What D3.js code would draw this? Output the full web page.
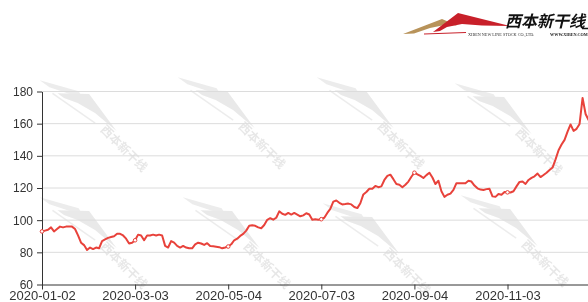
<!DOCTYPE html>
<html>
<head>
<meta charset="utf-8">
<script src="https://d3js.org/d3.v7.min.js"></script>
<style>
  body { margin: 0; background: #fff; }
  svg { display: block; }
  .axis text { font-family: "Liberation Sans", Arial, sans-serif; fill: #333; }
  .axis path, .axis line { stroke: #333; }
</style>
</head>
<body>
<svg width="588" height="302"></svg>
<script>
var values = [
  93, 93.5, 94, 95.5, 93, 94.5, 96, 95.5, 96, 96,
  96, 94.5, 90.5, 86, 84.5, 81.5, 83, 82, 83, 82.5,
  87, 88, 89, 89.5, 90, 91.5, 91.5, 90.5, 88.5, 85.5,
  86, 87.5, 91, 90.5, 87.5, 90.5, 90.5, 91, 90.5, 91,
  90.5, 84, 83, 87, 86, 84, 83, 84, 83, 82.5,
  82.5, 85, 86, 85.5, 84.6, 85.7, 84, 83.8, 83.5, 83.2,
  82.5, 83, 83.6, 85, 87.5, 88.5, 90.2, 91.5, 93.5, 96.5,
  96.8, 96.5, 95.5, 95, 97, 100.2, 101.2, 100.3, 101.5, 105.5,
  104, 103.3, 104.5, 103.5, 104.5, 103.5, 102.4, 103, 104.3, 103.5,
  100.2, 100.6, 100.2, 100.6, 101.5, 104.5, 107, 111.5, 112.2, 110.8,
  109.8, 110, 110.3, 109.8, 108.2, 107.5, 110.5, 116, 117.5, 119.5,
  119.5, 121.3, 120.5, 121, 125, 127.5, 128.3, 125.5, 122.5, 122,
  120.5, 122, 124, 127, 129.5, 128.5, 127.5, 126.2, 128, 129.5,
  126.5, 122.5, 124.5, 118, 114.5, 115.8, 116.5, 118.8, 123, 123,
  123, 123, 124.5, 124, 121.5, 119.8, 119, 118.8, 119.3, 119.5,
  114.8, 114.5, 116.3, 115.8, 117.5, 117.3, 117.2, 118, 121, 123.8,
  124, 122.5, 125, 126.3, 127.3, 129, 126.8, 128.1, 129.5, 131.2,
  132.7, 137.8, 143.5, 147, 149.9, 155, 159.5, 155.5, 156.8, 159.8,
  176, 166, 162.3, 163
];
var tickLabels = ["2020-01-02", "2020-03-03", "2020-05-04", "2020-07-03", "2020-09-04", "2020-11-03"];
var tickEvery = 31;
var yTicks = [60, 80, 100, 120, 140, 160, 180];
var brand = "西本新干线";
var brandEn = "XIBEN NEW LINE STOCK CO.,LTD.";
var brandWeb = "WWW.XIBEN.COM";
var marks = [[45, 73], [183, 70], [322, 70], [460, 76], [45, 190], [188, 190], [328, 196], [466, 188]];

var svg = d3.select("svg"),
    width = +svg.attr("width"),
    height = +svg.attr("height");

var left = 42,
    step = (507.5 - left) / (tickEvery * 5);

var x = d3.scaleLinear()
    .domain([0, values.length - 1])
    .range([left, left + (values.length - 1) * step]);
var y = d3.scaleLinear()
    .domain([60, 180])
    .range([284.5, 91.5]);

// watermark
var wm = svg.append("g").attr("opacity", 0.4);
marks.forEach(function(m){
  var g = wm.append("g").attr("transform", "translate(" + m[0] + "," + m[1] + ") rotate(36)");
  g.append("path")
      .attr("d", "M0,9 L38,-5 L52,1 L34,2 L12,9 Z")
      .attr("fill", "#d0d0d0");
  g.append("path")
      .attr("d", "M22,9 L48,-9 L92,5 L64,3 L44,5 L30,9 Z")
      .attr("fill", "#c8c8c8");
  g.append("path")
      .attr("d", "M18,12 L70,11")
      .attr("stroke", "#d0d0d0")
      .attr("stroke-width", 1.5);
  g.append("text")
      .attr("x", 78)
      .attr("y", 14)
      .attr("transform", "rotate(9,78,14)")
      .attr("font-family", "Noto Sans CJK SC")
      .attr("font-size", 12)
      .attr("font-weight", "bold")
      .attr("fill", "#c4c4c4")
      .text(brand);
});

// grid
svg.append("g")
    .selectAll("line")
    .data(yTicks.slice(1))
    .enter().append("line")
      .attr("x1", left)
      .attr("x2", width)
      .attr("y1", function(d){return y(d);})
      .attr("y2", function(d){return y(d);})
      .attr("stroke", "#dcdcdc")
      .attr("stroke-width", 1);

svg.append("g")
    .attr("class", "axis")
    .attr("transform", "translate(" + left + ",0)")
    .call(d3.axisLeft(y).tickValues(yTicks).tickSize(5).tickPadding(4).tickSizeOuter(0))
    .selectAll("text")
      .attr("font-size", 12);

var tickIdx = tickLabels.map(function(d, i){return i * tickEvery;});
svg.append("g")
    .attr("class", "axis")
    .attr("transform", "translate(0," + y(60) + ")")
    .call(d3.axisBottom(x).tickValues(tickIdx)
      .tickFormat(function(d, i){return tickLabels[i];})
      .tickSize(5).tickPadding(1).tickSizeOuter(0))
    .selectAll("text")
      .attr("font-size", 13);

var line = d3.line()
    .x(function(d, i){return x(i);})
    .y(function(d){return y(d);});

svg.append("path")
    .datum(values)
    .attr("fill", "none")
    .attr("stroke", "#e8423b")
    .attr("stroke-width", 2)
    .attr("stroke-linejoin", "round")
    .attr("d", line);

svg.selectAll(".dot")
    .data(tickIdx)
    .enter().append("circle")
      .attr("class", "dot")
      .attr("cx", function(d){return x(d);})
      .attr("cy", function(d){return y(values[d]);})
      .attr("r", 1.8)
      .attr("fill", "#fff")
      .attr("stroke", "#e8423b")
      .attr("stroke-width", 1);

// logo
var logo = svg.append("g");
logo.append("path")
    .attr("d", "M403,34 L442,19 L457,25.5 L447,24.5 L430,28 L414,33.5 Z")
    .attr("fill", "#b8935a");
logo.append("path")
    .attr("d", "M433,32 L458,13 L510,26 L482,25.5 L462,24 L447,27 L440,31 Z")
    .attr("fill", "#c8202a");
logo.append("path")
    .attr("d", "M424,34 L466,32.5")
    .attr("stroke", "#c8202a")
    .attr("stroke-width", 1);
logo.append("text")
    .attr("x", 505)
    .attr("y", 27)
    .attr("font-family", "Noto Sans CJK SC")
    .attr("font-size", 16)
    .attr("font-weight", "bold")
    .attr("font-style", "italic")
    .attr("fill", "#111")
    .text(brand);
logo.append("line")
    .attr("x1", 582).attr("x2", 588)
    .attr("y1", 28.5).attr("y2", 28.5)
    .attr("stroke", "#111")
    .attr("stroke-width", 1.5);
logo.append("text")
    .attr("x", 468)
    .attr("y", 35.5)
    .attr("font-family", "Liberation Serif")
    .attr("font-size", 4.2)
    .attr("fill", "#333")
    .text(brandEn);
logo.append("text")
    .attr("x", 550)
    .attr("y", 35.5)
    .attr("font-family", "Liberation Serif")
    .attr("font-size", 4.2)
    .attr("font-weight", "bold")
    .attr("fill", "#222")
    .text(brandWeb);
</script>
</body>
</html>
